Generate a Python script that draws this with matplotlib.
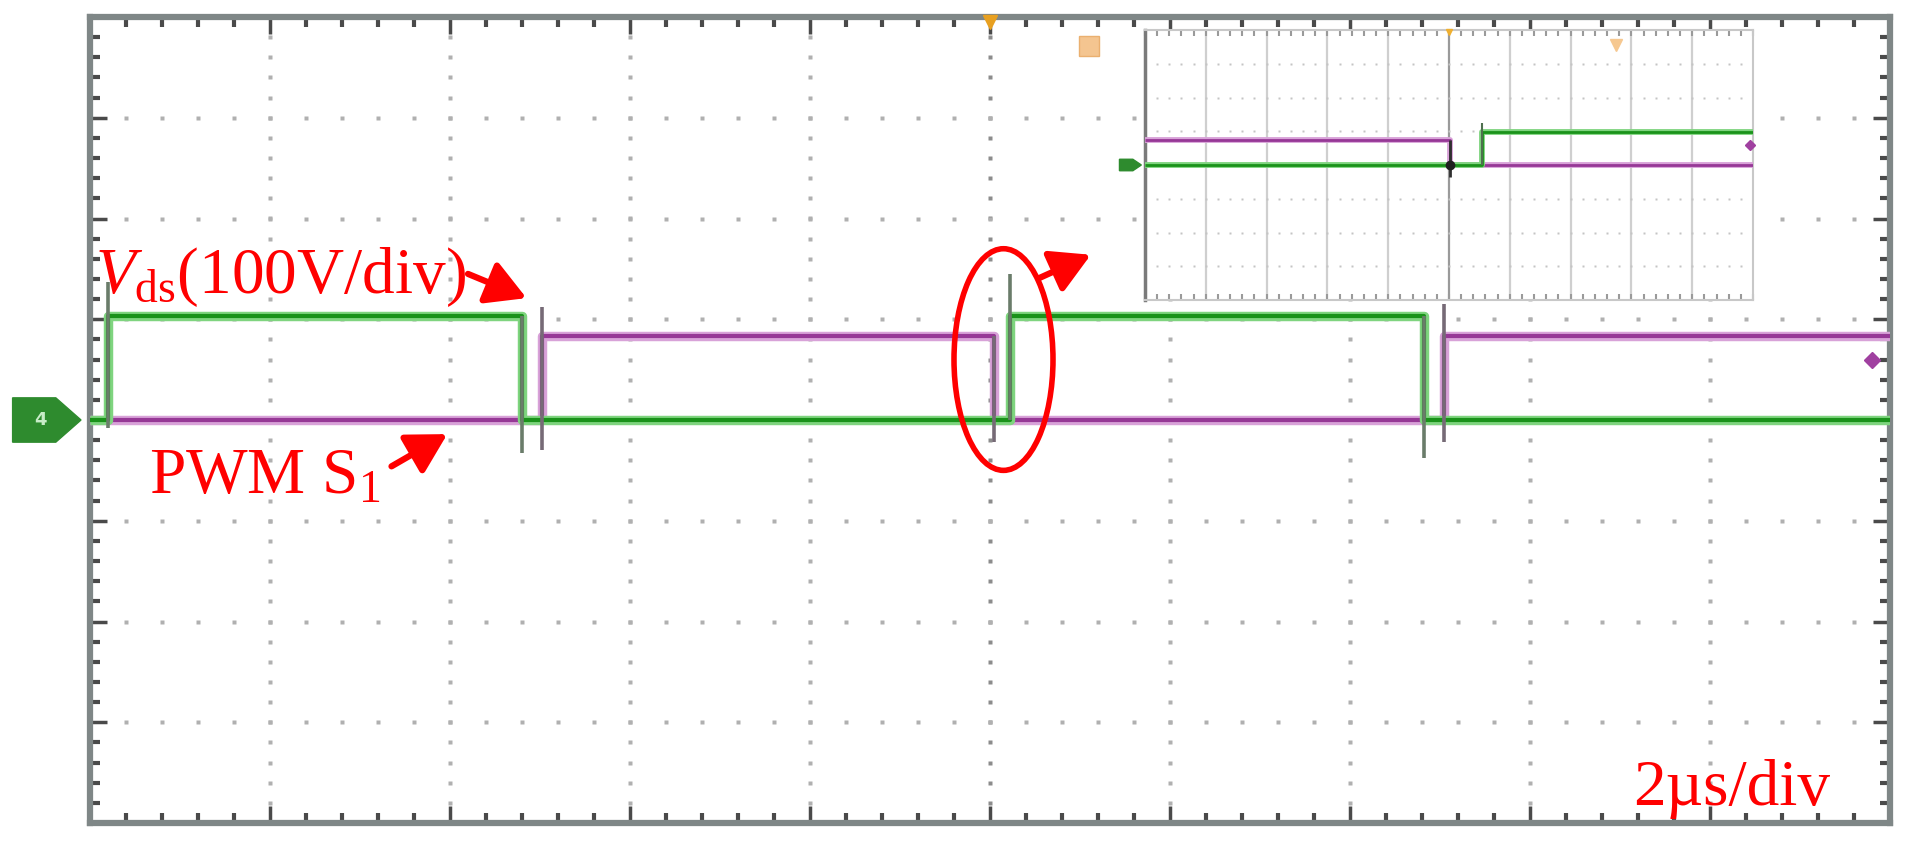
import matplotlib.pyplot as plt
import numpy as np
from matplotlib.patches import Ellipse, Polygon, FancyArrowPatch

plt.rcParams['font.family'] = ['Liberation Serif', 'DejaVu Serif']
plt.rcParams['mathtext.fontset'] = 'custom'
plt.rcParams['mathtext.rm'] = 'Liberation Serif'
plt.rcParams['mathtext.it'] = 'Liberation Serif:italic'

# %% data: time in µs (2 µs/div), amplitude in divisions
t_start, t_end = 0.0, 20.0
vds_edges = [0.2, 4.8, 10.22, 14.82]
vds_levels = [0.0, 1.03, 0.0, 1.03, 0.0]
pwm_edges = [5.02, 10.04, 15.04]
pwm_levels = [0.0, 0.83, 0.0, 0.83]

# ringing at the switching edges (time, top, bottom)
vds_spike_t = [0.2, 4.8, 10.22, 14.82]
vds_spike_top = [1.37, 1.03, 1.45, 1.03]
vds_spike_bot = [-0.08, -0.33, 0.0, -0.38]
pwm_spike_t = [5.02, 10.04, 15.04]
pwm_spike_top = [1.12, 0.83, 1.15]
pwm_spike_bot = [-0.30, -0.22, -0.22]

# zoomed view (inset), in divisions
zoom_vds_edges = [5.54]
zoom_vds_levels = [0.0, 0.98]
zoom_vds_spike = (5.54, 1.24, 0.0)
zoom_pwm_edges = [5.02]
zoom_pwm_levels = [0.74, 0.0]
zoom_pwm_spike = (5.02, 0.74, -0.35)

green = '#1a921a'
green_halo = '#7fd47f'
purple = '#963896'
purple_halo = '#d8a2d8'
grid_col = '#b0b0b0'


def step_trace(ax, edges, levels, t0, t1, core, halo, lw=3.0, hw=6.8, z=3):
    t = [t0] + list(edges) + [t1]
    v = list(levels) + [levels[-1]]
    ax.step(t, v, where='post', color=halo, lw=hw, zorder=z, solid_capstyle='butt')
    ax.step(t, v, where='post', color=core, lw=lw, zorder=z + 0.1, solid_capstyle='butt')


def dotted_grid(ax, xdiv, ydiv, xstep, ystep, ms=2.6, col=grid_col):
    # scope style graticule: dots at the minor positions along each major line
    x0, x1 = ax.get_xlim()
    y0, y1 = ax.get_ylim()
    yy = np.arange(y0, y1 + 1e-9, ystep / 5)
    xx = np.arange(x0, x1 + 1e-9, xstep / 5)
    for k in range(1, xdiv):
        xv = x0 + k * xstep
        c = '#8c8c8c' if k == xdiv // 2 else col
        ax.plot(np.full_like(yy, xv), yy, 's', ms=ms, color=c, mec='none', zorder=1)
    for j in range(1, ydiv):
        yv = y0 + j * ystep
        ax.plot(xx, np.full_like(xx, yv), 's', ms=ms, color=col, mec='none', zorder=1)


fig = plt.figure(figsize=(19.08, 8.48), dpi=100)

# %% main screen
ax = fig.add_axes([90 / 1908, 25 / 848, 1800 / 1908, 806 / 848])
ax.set_xlim(t_start, t_end)
ax.set_ylim(-4, 4)
dotted_grid(ax, 10, 8, 2.0, 1.0)

for sp in ax.spines.values():
    sp.set_color('#7f8787')
    sp.set_linewidth(4.5)
ax.set_xticks(np.arange(0, 20.1, 2.0))
ax.set_yticks(np.arange(-4, 4.1, 1.0))
ax.set_xticks(np.arange(0, 20.1, 0.4), minor=True)
ax.set_yticks(np.arange(-4, 4.1, 0.2), minor=True)
ax.tick_params(which='both', direction='in', top=True, right=True,
               labelbottom=False, labelleft=False, color='#4a4a4a')
ax.tick_params(which='major', length=12, width=2.5)
ax.tick_params(which='minor', length=7, width=3)

step_trace(ax, pwm_edges, pwm_levels, t_start, t_end, purple, purple_halo)
step_trace(ax, vds_edges, vds_levels, t_start, t_end, green, green_halo, z=4)
ax.vlines(vds_spike_t, vds_spike_bot, vds_spike_top, color='#6a7c6a', lw=2.6, zorder=6)
ax.vlines(pwm_spike_t, pwm_spike_bot, pwm_spike_top, color='#766a76', lw=2.6, zorder=6)

# channel / trigger markers
ax.add_patch(Polygon([(-0.86, -0.22), (-0.38, -0.22), (-0.1, 0), (-0.38, 0.22), (-0.86, 0.22)],
                     closed=True, fc='#2e8b2e', ec='#2e8b2e', clip_on=False, zorder=7))
ax.text(-0.55, 0, '4', color='#c8ecc8', fontsize=13, fontweight='bold',
        family='DejaVu Sans', ha='center', va='center', clip_on=False, zorder=8)
ax.plot([19.8], [0.6], 'D', ms=8, color='#a040a0', zorder=7, clip_on=False)
ax.plot([10.0], [3.95], 'v', ms=10, color='#e8a020', zorder=7, clip_on=False)
ax.plot([11.1], [3.71], 's', ms=15, color='#f4c590', mec='#eab070', zorder=7)

# annotations
red = '#ff0000'
ax.text(0.06, 1.26, r'$V_{\rm ds}$(100V/div)', color=red, fontsize=47, va='baseline', zorder=9)
ax.text(0.66, -0.72, r'PWM S$_{\rm 1}$', color=red, fontsize=47, va='baseline', zorder=9)
ax.text(17.15, -3.82, '2µs/div', color=red, fontsize=47, va='baseline', zorder=9)
for (x0, y0), (x1, y1) in [((4.2, 1.45), (4.85, 1.21)),
                           ((3.35, -0.46), (3.97, -0.14)),
                           ((10.55, 1.41), (11.12, 1.64))]:
    ax.add_patch(FancyArrowPatch((x0, y0), (x1, y1), arrowstyle='-|>,head_length=0.8,head_width=0.45',
                                 mutation_scale=30, lw=4.5, color=red, zorder=9,
                                 shrinkA=0, shrinkB=0))
ax.add_patch(Ellipse((10.15, 0.6), 1.1, 2.2, fill=False, ec=red, lw=4, zorder=9))

# %% zoomed inset
axi = fig.add_axes([1145 / 1908, (848 - 300) / 848, 608 / 1908, 270 / 848])
axi.set_xlim(0, 10)
axi.set_ylim(-4, 4)
axi.set_zorder(5)
axi.set_facecolor('white')
for k in range(1, 10):
    axi.axvline(k, color='#cfcfcf' if k != 5 else '#9a9a9a', lw=1.6, zorder=1)
xx = np.arange(0, 10.01, 0.2)
for j in range(-3, 4):
    axi.plot(xx, np.full_like(xx, j), 's', ms=1.6, color='#c4c4c4', mec='none', zorder=1)
for sp in axi.spines.values():
    sp.set_color('#c8c8c8')
    sp.set_linewidth(1.5)
axi.spines['left'].set_color('#7a7a7a')
axi.spines['left'].set_linewidth(2.5)
axi.set_xticks(np.arange(0, 10.01, 0.2))
axi.set_yticks([])
axi.tick_params(direction='in', top=True, labelbottom=False, length=4, width=1.5, color='#9a9a9a')

step_trace(axi, zoom_pwm_edges, zoom_pwm_levels, 0, 10, purple, purple_halo, lw=2.0, hw=4.2)
step_trace(axi, zoom_vds_edges, zoom_vds_levels, 0, 10, green, green_halo, lw=2.0, hw=4.2, z=4)
axi.vlines([zoom_vds_spike[0]], zoom_vds_spike[2], zoom_vds_spike[1], color='#4f704f', lw=1.5, zorder=6)
axi.vlines([zoom_pwm_spike[0]], zoom_pwm_spike[2], zoom_pwm_spike[1], color='#303030', lw=2, zorder=6)
axi.plot([5.02], [0.0], 'o', ms=6, color='#202020', zorder=7)
axi.add_patch(Polygon([(-0.42, -0.17), (-0.2, -0.17), (-0.06, 0), (-0.2, 0.17), (-0.42, 0.17)],
                      closed=True, fc='#2e8b2e', ec='#2e8b2e', clip_on=False, zorder=7))
axi.plot([9.95], [0.6], 'D', ms=5, color='#a040a0', zorder=7, clip_on=False)
axi.plot([5.0], [3.95], 'v', ms=5, color='#f0b030', zorder=7, clip_on=False)
axi.plot([7.75], [3.55], 'v', ms=8, color='#f6c890', zorder=7)

plt.savefig('out.png', dpi=100)
